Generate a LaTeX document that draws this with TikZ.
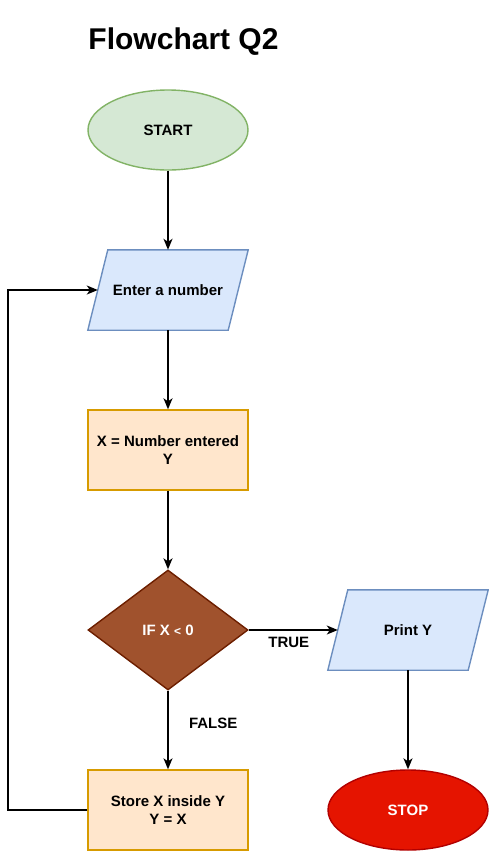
\documentclass[tikz,border=0pt]{standalone}
\usepackage{fontspec}
\setmainfont{Liberation Sans}
\usetikzlibrary{shapes.geometric,arrows.meta,positioning,backgrounds}

\definecolor{startfill}{HTML}{D5E8D4}
\definecolor{startline}{HTML}{82B366}
\definecolor{iofill}{HTML}{DAE8FC}
\definecolor{ioline}{HTML}{6C8EBF}
\definecolor{procfill}{HTML}{FFE6CC}
\definecolor{procline}{HTML}{D79B00}
\definecolor{decfill}{HTML}{A0522D}
\definecolor{decline}{HTML}{6D1F00}
\definecolor{stopfill}{HTML}{E51400}
\definecolor{stopline}{HTML}{B20000}

\tikzset{
  every node/.style={font=\fontsize{15}{18}\selectfont\bfseries, align=center},
  terminal/.style={ellipse, draw, line width=1.4pt, minimum width=160pt, minimum height=80pt},
  iobox/.style={rectangle, minimum width=140pt, minimum height=80pt},
  ioshape/.style={draw=ioline, fill=iofill, line width=1.4pt, line join=miter},
  procbox/.style={rectangle, draw=procline, fill=procfill, line width=1.4pt,
    minimum width=160pt, minimum height=80pt},
  decision/.style={diamond, aspect=1.3333, draw=decline, fill=decfill, text=white,
    line width=1.4pt, minimum width=160pt, minimum height=120pt, inner sep=0pt},
  flow/.style={-{Stealth[length=11pt,width=9pt,inset=3pt]}, line width=1.4pt},
}
%slanted outline round an input/output node
\newcommand{\ioslant}[1]{%
  \draw[ioshape] ([xshift=10pt]#1.north west) -- ([xshift=10pt]#1.north east)
    -- ([xshift=-10pt]#1.south east) -- ([xshift=-10pt]#1.south west) -- cycle;}

\begin{document}
\begin{tikzpicture}[x=1pt,y=-1pt]
  \useasboundingbox (0,0) rectangle (489,852);
  %title at the top left
  \node[font=\fontsize{30}{34}\selectfont\bfseries] (title) at (183.5,42) {Flowchart Q2};

  %left column of the chart
  \node[terminal, draw=startline, fill=startfill] (start) at (168,130) {START};
  \node[iobox] (enter) at (168,290) {Enter a number};
  \node[procbox] (assign) at (168,450) {X = Number entered\\Y};
  \node[decision] (test) at (168,630) {IF X {\fontsize{12}{14}\selectfont<} 0};
  \node[procbox] (store) at (168,810) {Store X inside Y\\Y = X};

  %right column
  \node[iobox] (print) at (408,630) {Print Y};
  \node[terminal, draw=stopline, fill=stopfill, text=white] (stop) at (408,810) {STOP};

  %parallelograms go behind the text
  \begin{scope}[on background layer]
    \ioslant{enter}
    \ioslant{print}
  \end{scope}

  %connectors
  \draw[flow] (start) -- (enter);
  \draw[flow] (enter) -- (assign);
  \draw[flow] (assign) -- (test);
  \draw[flow] (test) -- node[pos=0.42, right=17pt] (falselbl) {FALSE} (store);
  \draw[flow] (test) -- node[pos=0.45, below=3pt] (truelbl) {TRUE} (print);
  \draw[flow] (print) -- (stop);

  %loop back from store to the input box
  \coordinate (loopcorner) at (8,810);
  \draw[flow] (store.west) -- (loopcorner) |- (enter);
\end{tikzpicture}
\end{document}
